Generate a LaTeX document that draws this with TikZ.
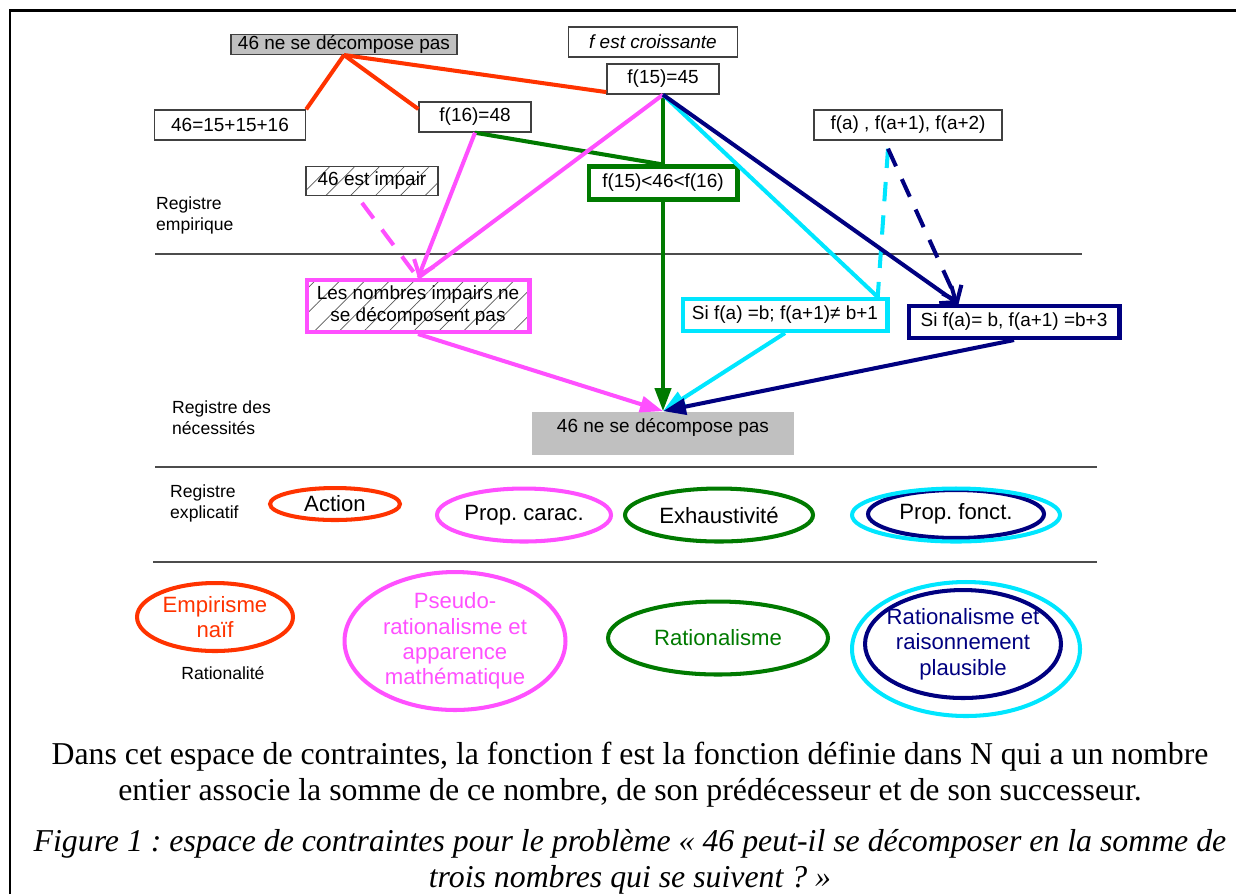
\documentclass[tikz,border=0pt]{standalone}
\usepackage{fontspec}
\setmainfont{Liberation Sans}
\newfontfamily\capfont{Liberation Serif}
\usepackage{tikz}
\usetikzlibrary{shapes,arrows.meta,positioning,calc,patterns.meta}
\usepackage{xcolor}
\definecolor{redline}{RGB}{255,51,0}
\definecolor{pinkline}{RGB}{255,80,255}
\definecolor{greenline}{RGB}{0,122,0}
\definecolor{cyanline}{RGB}{0,230,255}
\definecolor{navyline}{RGB}{0,0,128}
\definecolor{boxgray}{RGB}{192,192,192}
\newcommand{\boxfont}{\fontsize{10.8}{12.5}\selectfont}
\newcommand{\ellfont}{\fontsize{12.6}{14.5}\selectfont}
\newcommand{\regfont}{\fontsize{10}{12}\selectfont}
\newcommand{\capsize}{\fontsize{18.1}{20.4}\selectfont}
\frenchspacing

\begin{document}
\begin{tikzpicture}[
    x=0.02cm, y=-0.02cm,
    every node/.style={font=\boxfont},
    box/.style={rectangle, draw=black!75, line width=0.8pt, minimum height=0.6cm, inner sep=1pt, align=center},
    graybox/.style={box, fill=boxgray},
    thickbox/.style={box, line width=2.3pt, minimum height=0.64cm},
    hatched/.style={pattern={Lines[angle=45,distance=10pt,line width=0.4pt]}, pattern color=black!65},
    ell/.style={ellipse, line width=2.3pt, inner sep=0pt, align=center, font=\ellfont},
    regis/.style={align=left, anchor=west, font=\regfont},
    link/.style={line width=2.3pt},
    fleche/.style={link, -{Triangle[length=0.46cm,width=0.32cm]}},
    barb/.style={link, -{Straight Barb[length=0.26cm,width=0.42cm]}},
    tirets/.style={link, dash pattern=on 11pt off 8pt},
    trait/.style={draw=black!70, line width=0.8pt}
]
    \useasboundingbox (0,0) rectangle (1236,894);
    \draw[line width=1.7pt] (10,894) -- (10,10) -- (1236,10);

    % Registre empirique
    \node[graybox, minimum width=4.52cm, minimum height=0.38cm, inner sep=0.5pt] (topdec) at (344,44.5) {46 ne se décompose pas};
    \node[box, minimum width=3.38cm, font=\boxfont\itshape] (fcroiss) at (653,42) {f est croissante};
    \node[box, minimum width=2.24cm] (f15) at (663,79) {f(15)=45};
    \node[box, minimum width=3.02cm] (sum) at (230,125) {46=15+15+16};
    \node[box, minimum width=2.24cm] (f16) at (475,117) {f(16)=48};
    \node[thickbox, draw=greenline, minimum width=2.98cm, minimum height=0.66cm] (ineq) at (663,183) {f(15)<46<f(16)};
    \node[box, minimum width=3.76cm] (faa) at (908,125) {f(a) , f(a+1), f(a+2)};
    \node[box, hatched, minimum width=2.64cm, minimum height=0.58cm] (impair) at (372,181) {46 est impair};
    \node[regis] (regemp) at (150,215) {Registre\\empirique};

    % Registre des necessites
    \node[thickbox, hatched, draw=pinkline, minimum width=4.46cm, minimum height=1.04cm] (nombres) at (418,306) {Les nombres impairs ne\\se décomposent pas};
    \node[thickbox, draw=cyanline, minimum width=4.1cm] (sifa1) at (785,315) {Si f(a) =b; f(a+1)≠ b+1};
    \node[thickbox, draw=navyline, minimum width=4.22cm] (sifa2) at (1014,322) {Si f(a)= b, f(a+1) =b+3};
    \node[fill=boxgray, minimum width=5.26cm, inner sep=0pt, text height=0.42cm, text depth=0.44cm] (botdec) at (663,433) {46 ne se décompose pas};
    \node[regis] (regnec) at (166,418) {Registre des\\nécessités};

    % Registre explicatif
    \node[regis] (regexp) at (164,503) {Registre\\explicatif};
    \node[ell, draw=redline, minimum width=2.6cm, minimum height=0.64cm] (action) at (335,504) {Action};
    \node[ell, draw=pinkline, minimum width=3.48cm, minimum height=1.06cm] (pcarac) at (524,515) {Prop. carac.};
    \node[ell, draw=greenline, minimum width=3.76cm, minimum height=1.06cm] (exhaust) at (719,515) {Exhaustivité};
    \node[ell, draw=navyline, minimum width=3.52cm, minimum height=0.96cm] (pfonct) at (956,514) {Prop. fonct.};
    \draw[cyanline, line width=2.3pt] (956,515) ellipse (104 and 26.5);

    % Rationalite
    \node[ell, draw=redline, text=redline, minimum width=3.12cm, minimum height=1.36cm] (empir) at (215,617) {Empirisme\\naïf};
    \node[font=\regfont] (rational) at (223,673) {Rationalité};
    \node[ell, draw=pinkline, text=pinkline, minimum width=4.42cm, minimum height=2.76cm] (pseudo) at (455,641) {Pseudo-\\rationalisme et\\apparence\\mathématique};
    \node[ell, draw=greenline, text=greenline, minimum width=4.4cm, minimum height=1.46cm] (ratio) at (718,638) {Rationalisme};
    \node[ell, draw=navyline, text=navyline, minimum width=3.92cm, minimum height=2.16cm, inner xsep=-0.2cm] (rplaus) at (963,644) {Rationalisme et\\raisonnement\\plausible};
    \draw[cyanline, line width=2.3pt] (966,649) ellipse (114 and 67);

    % Separations
    \draw[trait] (155,254) -- (1082,254);
    \draw[trait] (155,467) -- (1097,467);
    \draw[trait] (153,562) -- (1097,562);

    % Legende
    \node[font=\capfont\capsize, align=center] (legende) at (630,775) {Dans cet espace de contraintes, la fonction f est la fonction définie dans N qui a un nombre\\entier associe la somme de ce nombre, de son prédécesseur et de son successeur.};
    \node[font=\capfont\capsize\itshape, align=center] (titre) at (630,862) {Figure 1 : espace de contraintes pour le problème « 46 peut-il se décomposer en la somme de\\trois nombres qui se suivent ? »};

    % Liens rouges
    \draw[link, redline] (topdec.south) -- (sum.north east);
    \draw[link, redline] (topdec.south) -- (f16.172);
    \draw[link, redline] (topdec.south) -- (f15.193);

    % Liens verts
    \draw[link, greenline] (f16.south) -- (ineq.north);
    \draw[link, greenline] (f15.south) -- (ineq.north);
    \draw[fleche, greenline] (ineq.south) -- (botdec.north);

    % Liens roses
    \draw[link, pinkline] (f15.south) -- (nombres.north);
    \draw[barb, pinkline] (f16.south) -- (nombres.north);
    \draw[tirets, pinkline] ($(impair.south)+(-10,7)$) -- (nombres.north);
    \draw[fleche, pinkline] (nombres.south) -- (botdec.north);

    % Liens cyan
    \coordinate (pied) at ($(faa.south)+(-20,8)$);
    \draw[link, cyanline] (f15.south) -- (sifa1.11);
    \draw[tirets, cyanline] (pied) -- (sifa1.11);
    \draw[fleche, cyanline] (sifa1.south) -- (botdec.north);

    % Liens bleus
    \draw[barb, navyline] (f15.south) -- (sifa2.162);
    \draw[barb, tirets, navyline] (pied) -- (sifa2.162);
    \draw[fleche, navyline] (sifa2.south) -- (botdec.north);
\end{tikzpicture}
\end{document}
